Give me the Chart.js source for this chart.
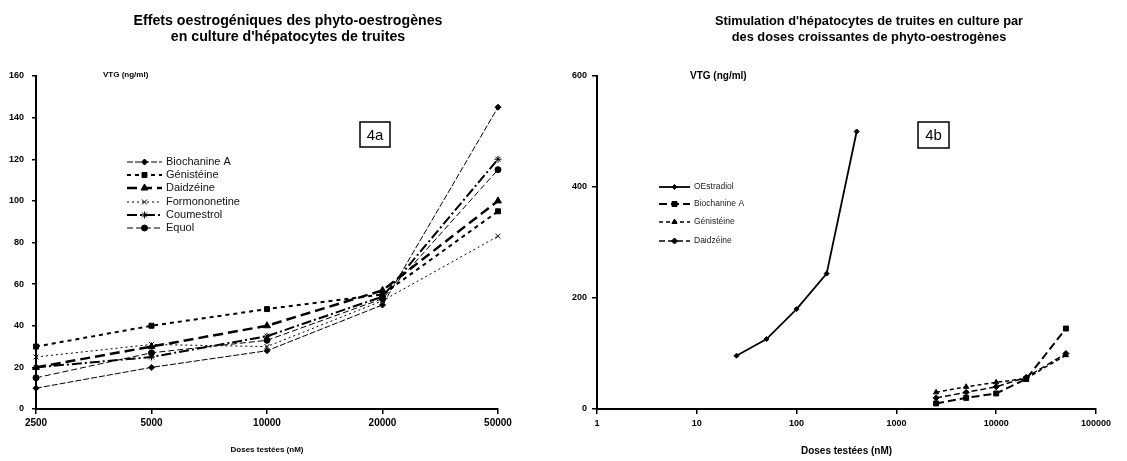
<!DOCTYPE html>
<html><head><meta charset="utf-8">
<script src="https://cdn.jsdelivr.net/npm/chart.js"></script>
<style>
html,body{margin:0;padding:0;background:#fff;}
#wrap{position:relative;width:1127px;height:461px;overflow:hidden;background:#fff;}
#c1{position:absolute;left:0;top:0;}
#c2{position:absolute;left:560px;top:0;}
</style></head><body>
<div id="wrap"><canvas id="c1" width="560" height="461"></canvas><canvas id="c2" width="567" height="461"></canvas></div>
<script>
// ---- Data: chart 4a ----
const doseCategories = ['2500', '5000', '10000', '20000', '50000'];
const biochanineA = [10, 20, 28, 50, 145];
const genisteine = [30, 40, 48, 55, 95];
const daidzeine = [20, 30, 40, 57, 100];
const formononetine = [25, 31, 30, 52, 83];
const coumestrol = [20, 25, 35, 54, 120];
const equol = [15, 27, 33, 53, 115];
const yTicksA = [0, 20, 40, 60, 80, 100, 120, 140, 160];

// ---- Data: chart 4b ----
const oestradiolDoses = [25, 50, 100, 200, 400];
const oestradiolVTG = [96, 126, 180, 244, 500];
const phytoDoses = [2500, 5000, 10000, 20000, 50000];
const biochanineA_b = [10, 20, 28, 54, 145];
const genisteine_b = [30, 40, 48, 55, 97];
const daidzeine_b = [20, 30, 40, 57, 100];
const xTicksB = [1, 10, 100, 1000, 10000, 100000];
const yTicksB = [0, 200, 400, 600];

const FONT = '"Liberation Sans", Arial, Helvetica, sans-serif';
const pairs = (xs, ys) => xs.map((x, i) => ({x: x, y: ys[i]}));

function annotPlugin(cfg) {
  return {
    id: 'annot',
    afterDraw(chart) {
      const ctx = chart.ctx;
      ctx.save();
      ctx.fillStyle = '#000';
      ctx.strokeStyle = '#000';
      // title
      ctx.font = cfg.titleFont;
      ctx.textAlign = 'center';
      ctx.textBaseline = 'alphabetic';
      cfg.title.forEach((t, i) => ctx.fillText(t, cfg.titleX, cfg.titleY[i]));
      // VTG label
      ctx.font = cfg.vtgFont;
      ctx.textAlign = 'left';
      ctx.textBaseline = 'middle';
      ctx.fillText('VTG (ng/ml)', cfg.vtgX, cfg.vtgY);
      // figure box
      ctx.lineWidth = 1.5;
      ctx.strokeRect(cfg.box[0], cfg.box[1], cfg.box[2], cfg.box[3]);
      ctx.font = '15px ' + FONT;
      ctx.textAlign = 'center';
      ctx.fillText(cfg.boxText, cfg.box[0] + cfg.box[2] / 2, cfg.box[1] + cfg.box[3] / 2 + 1);
      // legend
      chart.data.datasets.forEach((ds, i) => {
        const y = cfg.legY[i];
        ctx.save();
        ctx.strokeStyle = ds.borderColor;
        ctx.lineWidth = ds.borderWidth;
        ctx.setLineDash(ds.borderDash || []);
        ctx.beginPath();
        ctx.moveTo(cfg.legX0, y);
        ctx.lineTo(cfg.legX1, y);
        ctx.stroke();
        ctx.restore();
        ctx.save();
        ctx.setLineDash([]);
        ctx.fillStyle = ds.pointBackgroundColor;
        ctx.strokeStyle = ds.pointBorderColor;
        ctx.lineWidth = 1;
        Chart.helpers.drawPoint(ctx, {pointStyle: ds.pointStyle, radius: ds.pointRadius, rotation: 0, borderWidth: 1}, (cfg.legX0 + cfg.legX1) / 2, y);
        ctx.restore();
        ctx.font = cfg.legFont;
        ctx.fillStyle = cfg.legColor;
        ctx.textAlign = 'left';
        ctx.textBaseline = 'middle';
        ctx.fillText(ds.label, cfg.legX1 + 4, y);
      });
      ctx.restore();
    }
  };
}

function ds(label, data, width, dash, style, radius) {
  return {label: label, data: data, borderColor: '#000', borderWidth: width, borderDash: dash,
    pointStyle: style, pointRadius: radius, pointBackgroundColor: '#000', pointBorderColor: '#000',
    pointBorderWidth: 1, tension: 0, fill: false};
}

const axisBase = {
  border: {display: true, color: '#000', width: 2},
  grid: {display: true, drawOnChartArea: false, drawTicks: true, tickLength: 5, color: '#000', lineWidth: 1.5},
};

// ---------- Chart 4a ----------
new Chart(document.getElementById('c1'), {
  type: 'line',
  data: {
    labels: doseCategories,
    datasets: [
      ds('Biochanine A', biochanineA, 1, [6, 2], 'rectRot', 3),
      ds('Génistéine', genisteine, 2, [4, 4], 'rect', 3.5),
      ds('Daidzéine', daidzeine, 2.5, [10, 5], 'triangle', 4),
      ds('Formononetine', formononetine, 1, [2, 3], 'crossRot', 3.5),
      ds('Coumestrol', coumestrol, 2, [10, 3, 2, 3], 'star', 3.5),
      ds('Equol', equol, 1, [6, 3], 'circle', 3)
    ]
  },
  options: {
    responsive: false, animation: false,
    layout: {padding: {top: 76, right: 62, left: 0, bottom: 0}},
    plugins: {legend: {display: false}, title: {display: false}, tooltip: {enabled: false}},
    scales: {
      x: Object.assign({}, axisBase, {
        type: 'category', offset: false,
        ticks: {color: '#000', font: {family: FONT, size: 10, weight: 'bold'}, padding: 3, maxRotation: 0, autoSkip: false},
        title: {display: true, text: 'Doses testées (nM)', color: '#000', font: {family: FONT, size: 8, weight: 'bold'}, padding: {top: 0, bottom: 6}},
        afterFit(s) { s.height = 52; }
      }),
      y: Object.assign({}, axisBase, {
        min: 0, max: 160,
        afterBuildTicks(s) { s.ticks = yTicksA.map(v => ({value: v})); },
        ticks: {color: '#000', font: {family: FONT, size: 9, weight: 'bold'}, padding: 8},
        grid: Object.assign({}, axisBase.grid, {tickLength: 4}),
        afterFit(s) { s.width = 36; }
      })
    }
  },
  plugins: [annotPlugin({
    title: ['Effets oestrogéniques des phyto-oestrogènes', "en culture d'hépatocytes de truites"],
    titleFont: 'bold 14.2px ' + FONT,
    titleX: 288, titleY: [25, 41],
    vtgFont: 'bold 8px ' + FONT, vtgX: 103, vtgY: 75,
    box: [360, 122, 30, 25], boxText: '4a',
    legX0: 127, legX1: 162, legY: [162, 175, 188, 202, 215, 228],
    legFont: '11px ' + FONT, legColor: '#111'
  })]
});

// ---------- Chart 4b ----------
new Chart(document.getElementById('c2'), {
  type: 'line',
  data: {
    datasets: [
      ds('OEstradiol', pairs(oestradiolDoses, oestradiolVTG), 1.8, [], 'rectRot', 2.5),
      ds('Biochanine A', pairs(phytoDoses, biochanineA_b), 2, [8, 4], 'rect', 3.5),
      ds('Génistéine', pairs(phytoDoses, genisteine_b), 1.5, [4, 3], 'triangle', 3),
      ds('Daidzéine', pairs(phytoDoses, daidzeine_b), 1.5, [6, 3], 'rectRot', 3)
    ]
  },
  options: {
    responsive: false, animation: false,
    layout: {padding: {top: 76, right: 31, left: 0, bottom: 0}},
    plugins: {legend: {display: false}, title: {display: false}, tooltip: {enabled: false}},
    scales: {
      x: Object.assign({}, axisBase, {
        type: 'logarithmic', min: 1, max: 100000,
        afterBuildTicks(s) { s.ticks = xTicksB.map(v => ({value: v})); },
        ticks: {color: '#000', font: {family: FONT, size: 9, weight: 'bold'}, padding: 4, maxRotation: 0, autoSkip: false,
          callback: v => String(v)},
        title: {display: true, text: 'Doses testées (nM)', color: '#000', font: {family: FONT, size: 10, weight: 'bold'}, padding: {top: 0, bottom: 4}},
        afterFit(s) { s.height = 52; }
      }),
      y: Object.assign({}, axisBase, {
        min: 0, max: 600,
        afterBuildTicks(s) { s.ticks = yTicksB.map(v => ({value: v})); },
        ticks: {color: '#000', font: {family: FONT, size: 9, weight: 'bold'}, padding: 5},
        afterFit(s) { s.width = 37; }
      })
    }
  },
  plugins: [annotPlugin({
    title: ["Stimulation d'hépatocytes de truites en culture par", 'des doses croissantes de phyto-oestrogènes'],
    titleFont: 'bold 12.8px ' + FONT,
    titleX: 309, titleY: [25, 41],
    vtgFont: 'bold 10px ' + FONT, vtgX: 130, vtgY: 76,
    box: [358, 122, 31, 26], boxText: '4b',
    legX0: 99, legX1: 130, legY: [187, 204, 222, 241],
    legFont: '8.5px ' + FONT, legColor: '#222'
  })]
});
</script>
</body></html>
